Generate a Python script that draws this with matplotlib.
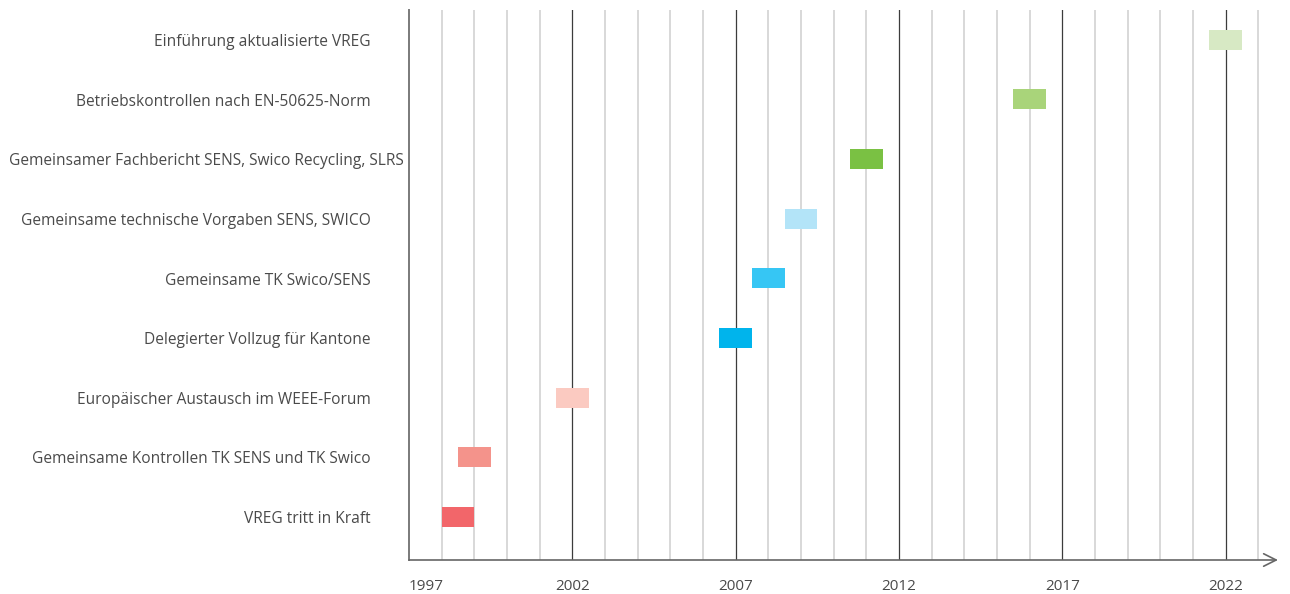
import matplotlib
matplotlib.use('Agg')
from matplotlib import pyplot as plt
from matplotlib.transforms import blended_transform_factory

labels = ['VREG tritt in Kraft',
          'Gemeinsame Kontrollen TK SENS und TK Swico',
          'Europäischer Austausch im WEEE-Forum',
          'Delegierter Vollzug für Kantone',
          'Gemeinsame TK Swico/SENS',
          'Gemeinsame technische Vorgaben SENS, SWICO',
          'Gemeinsamer Fachbericht SENS, Swico Recycling, SLRS',
          'Betriebskontrollen nach EN-50625-Norm',
          'Einführung aktualisierte VREG']
starts = [1998, 1998.5, 2001.5, 2006.5, 2007.5, 2008.5, 2010.5, 2015.5, 2021.5]
durations = [1, 1, 1, 1, 1, 1, 1, 1, 1]
colors = ['#f2666a', '#f4938b', '#fbcac1', '#00b4ec', '#36c6f4',
          '#b3e4f8', '#7ac143', '#a9d47a', '#d7e9c4']
year_ticks = [1997, 2002, 2007, 2012, 2017, 2022]

plt.rcParams['font.family'] = ['Open Sans', 'DejaVu Sans']
txt = '#4a4a4a'

fig = plt.figure(figsize=(12.9, 5.94), dpi=100)
ax = fig.add_axes([409 / 1290, 34 / 594, (1278 - 409) / 1290, 550 / 594])
ax.set_xlim(1997, 2023.6)
ax.set_ylim(-0.72, 8.5)

# year grid
for yr in range(1998, 2024):
    if yr in year_ticks:
        ax.axvline(yr, color='#3c3c3c', lw=0.9, zorder=1)
    else:
        ax.axvline(yr, color='#d2d2d2', lw=1.2, zorder=1)

ys = list(range(len(labels)))
ax.barh(ys, durations, left=starts, height=0.335, color=colors, zorder=3)

for s in ['top', 'right', 'bottom']:
    ax.spines[s].set_visible(False)
ax.spines['left'].set_color('#7a7a7a')
ax.spines['left'].set_linewidth(1.4)
ax.annotate('', xy=(1, 0), xytext=(0, 0), xycoords='axes fraction',
            arrowprops=dict(arrowstyle='->,head_length=0.9,head_width=0.45',
                            color='#666666', lw=1.2, shrinkA=0, shrinkB=0),
            annotation_clip=False)
ax.set_xticks([])
ax.set_yticks([])

# category labels
tr = blended_transform_factory(fig.transFigure, ax.transData)
for y, lab in zip(ys, labels):
    if len(lab) > 45:
        ax.text(9 / 1290, y - 0.035, lab, transform=tr, ha='left', va='center',
                fontsize=11.2, color=txt)
    else:
        ax.text(371 / 1290, y - 0.035, lab, transform=tr, ha='right', va='center',
                fontsize=11.2, color=txt)

# year labels
tr2 = blended_transform_factory(ax.transData, fig.transFigure)
for yr in year_ticks:
    ax.text(yr, 1 - 587 / 594, str(yr), transform=tr2,
            ha='left' if yr == 1997 else 'center', va='center',
            fontsize=11, color=txt)

fig.savefig('out.png', dpi=100)
